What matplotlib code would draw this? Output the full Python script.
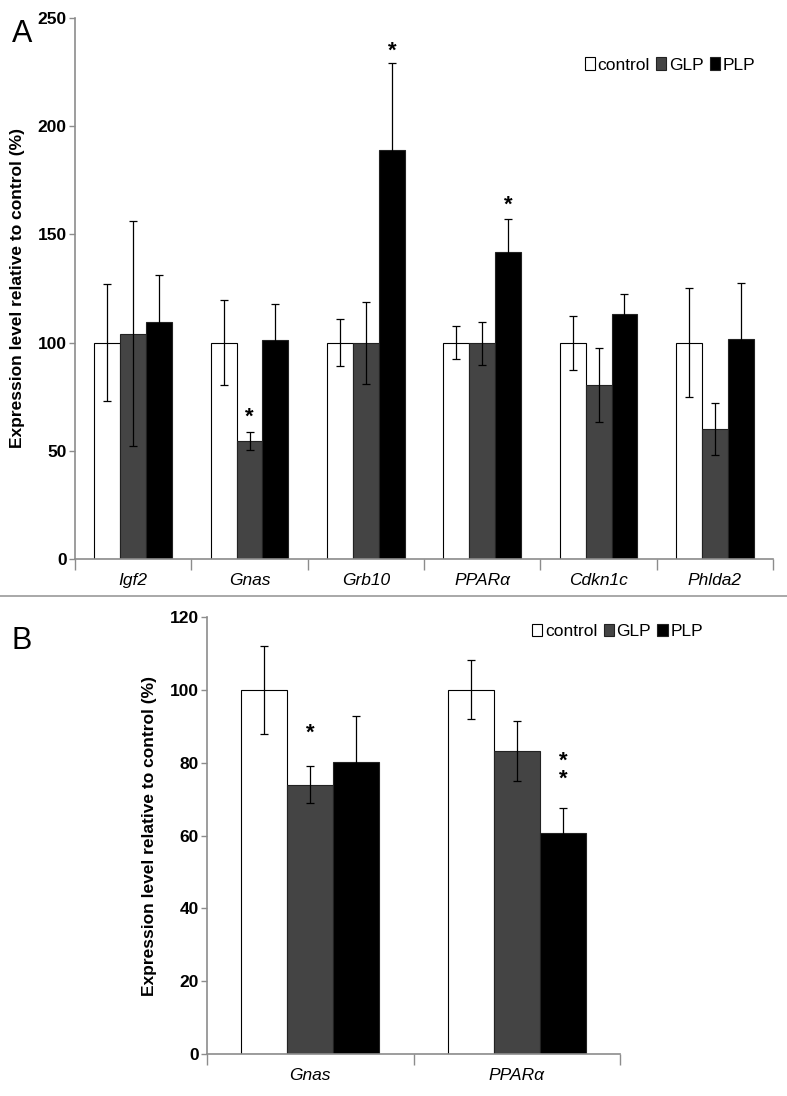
import numpy as np
import matplotlib
matplotlib.use("Agg")
import matplotlib.pyplot as plt
from matplotlib.patches import Patch
from matplotlib.lines import Line2D

# Panel A data
genes_a = ["Igf2", "Gnas", "Grb10", "PPARα", "Cdkn1c", "Phlda2"]
control_a = [100, 100, 100, 100, 100, 100]
control_a_err = [27, 19.5, 11, 7.5, 12.5, 25]
glp_a = [104, 54.5, 99.8, 99.7, 80.5, 60]
glp_a_err = [52, 4, 19, 10, 17, 12]
plp_a = [109.5, 101, 189, 142, 113, 101.5]
plp_a_err = [21.5, 17, 40, 15, 9.5, 26]
# (series, gene index, marker, gap above error bar in data units)
stars_a = [("GLP", 1, "*", 7), ("PLP", 2, "*", 5.5), ("PLP", 3, "*", 6.5)]

# Panel B data
genes_b = ["Gnas", "PPARα"]
control_b = [100, 100]
control_b_err = [12, 8.1]
glp_b = [74, 83.2]
glp_b_err = [5.2, 8.3]
plp_b = [80.2, 60.6]
plp_b_err = [12.6, 6.9]
stars_b = [("GLP", 0, "*", 9), ("PLP", 1, "*\n*", 5.2)]

COLORS = {"control": "white", "GLP": "#444444", "PLP": "black"}
NARROW = ["Liberation Sans Narrow", "Liberation Sans", "DejaVu Sans"]
SANS = ["Liberation Sans", "DejaVu Sans"]
AXCOL = "#8c8c8c"
W = 0.223


def draw_panel(ax, genes, series, stars, ymax, ystep):
    x = np.arange(len(genes))
    offsets = {"control": -W, "GLP": 0.0, "PLP": W}
    tops = {}
    for name, (vals, errs) in series.items():
        ax.bar(x + offsets[name], vals, W, color=COLORS[name],
               edgecolor="black" if name == "control" else "#222222",
               linewidth=0.8, zorder=2)
        ax.errorbar(x + offsets[name], vals, yerr=errs, fmt="none",
                    ecolor="black", elinewidth=0.9, capsize=3, capthick=0.9,
                    zorder=3)
        tops[name] = [v + e for v, e in zip(vals, errs)]
    for name, i, s, gap in stars:
        ax.text(i + offsets[name], tops[name][i] + gap, s, ha="center",
                va="bottom" if "\n" in s else "center", fontsize=16,
                fontweight="bold", linespacing=0.8, family=SANS)

    ax.set_xlim(-0.5, len(genes) - 0.5)
    ax.set_ylim(0, ymax)
    ax.set_yticks(np.arange(0, ymax + 1, ystep))
    ax.set_xticks(np.arange(len(genes) + 1) - 0.5)
    ax.set_xticklabels([])
    ax.set_xticks(x, minor=True)
    ax.set_xticklabels(genes, minor=True, fontstyle="italic", fontsize=12.5,
                       family=NARROW)
    ax.tick_params(axis="x", which="major", length=8, color=AXCOL, width=1)
    ax.tick_params(axis="x", which="minor", length=0, pad=10)
    ax.tick_params(axis="y", length=4, color=AXCOL, width=1, pad=2)
    for lab in ax.get_yticklabels():
        lab.set_fontweight("bold")
        lab.set_fontsize(12.5)
        lab.set_family(NARROW)
    for sp in ["top", "right"]:
        ax.spines[sp].set_visible(False)
    for sp in ["left", "bottom"]:
        ax.spines[sp].set_color(AXCOL)
        ax.spines[sp].set_linewidth(1.2)
    ax.set_ylabel("Expression level relative to control (%)", fontsize=12.5,
                  fontweight="bold", family=SANS)

    handles = [Patch(facecolor=COLORS[n], edgecolor="black" if n == "control" else "#222222",
                     linewidth=0.8, label=n) for n in ["control", "GLP", "PLP"]]
    return handles


fig = plt.figure(figsize=(7.87, 10.96), dpi=100)

ax_a = fig.add_axes([0.0953, 0.490, 0.887, 0.4936])
h = draw_panel(ax_a, genes_a,
               {"control": (control_a, control_a_err),
                "GLP": (glp_a, glp_a_err),
                "PLP": (plp_a, plp_a_err)},
               stars_a, 250, 50)
ax_a.yaxis.set_label_coords(-0.072, 0.5)
ax_a.legend(handles=h, loc="upper left", bbox_to_anchor=(0.72, 0.94), ncol=3,
            frameon=False, handlelength=0.6, handleheight=0.7,
            handletextpad=0.15, columnspacing=0.35, borderaxespad=0,
            prop={"family": SANS, "size": 12.5})

ax_b = fig.add_axes([0.263, 0.0383, 0.525, 0.3987])
h = draw_panel(ax_b, genes_b,
               {"control": (control_b, control_b_err),
                "GLP": (glp_b, glp_b_err),
                "PLP": (plp_b, plp_b_err)},
               stars_b, 120, 20)
ax_b.yaxis.set_label_coords(-0.12, 0.5)
ax_b.legend(handles=h, loc="upper left", bbox_to_anchor=(0.77, 1.0), ncol=3,
            frameon=False, handlelength=0.6, handleheight=0.7,
            handletextpad=0.15, columnspacing=0.35, borderaxespad=0,
            prop={"family": SANS, "size": 12.5})

# panel letters and separator
fig.text(0.015, 0.983, "A", fontsize=22, va="top", family=SANS)
fig.text(0.015, 0.429, "B", fontsize=22, va="top", family=SANS)
fig.add_artist(Line2D([0, 1], [1 - 596 / 1096] * 2, color="#999999",
                      linewidth=1.2, transform=fig.transFigure))

fig.savefig("out.png", dpi=100)
